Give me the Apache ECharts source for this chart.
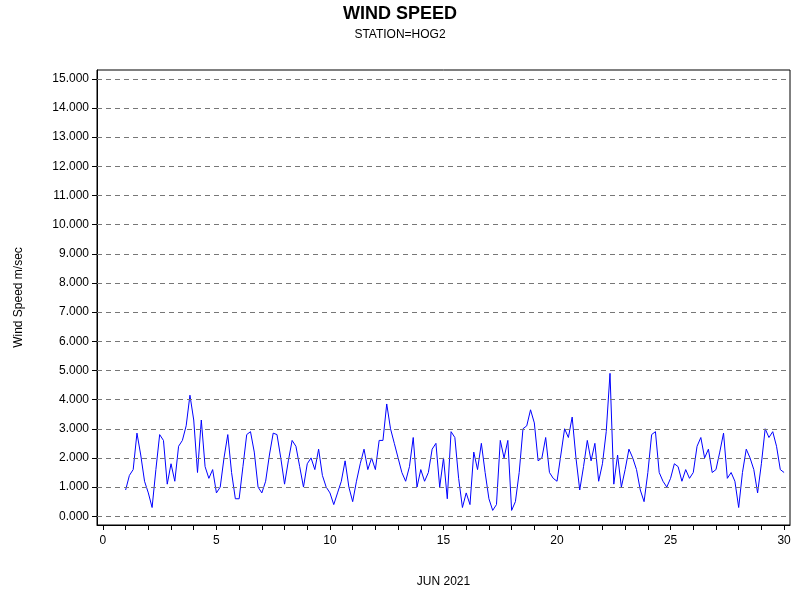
<!DOCTYPE html>
<html><head><meta charset="utf-8">
<script src="https://cdn.jsdelivr.net/npm/echarts@6/dist/echarts.min.js"></script>
<style>html,body{margin:0;padding:0;background:#fff}#c{width:800px;height:600px}</style>
</head><body><div id="c"></div>
<script>
const speed = [
0.9,1.4,1.6,2.85,2.1,1.2,
0.8,0.3,1.6,2.8,2.6,1.1,
1.8,1.2,2.4,2.6,3.1,4.15,
3.3,1.5,3.3,1.7,1.3,1.6,
0.8,1.0,2.0,2.8,1.5,0.6,
0.6,1.7,2.8,2.9,2.2,1.0,
0.8,1.2,2.1,2.85,2.8,2.0,
1.1,1.9,2.6,2.4,1.7,1.0,
1.8,2.0,1.6,2.3,1.4,1.0,
0.8,0.4,0.8,1.2,1.9,1.0,
0.5,1.2,1.8,2.3,1.6,2.0,
1.6,2.6,2.6,3.85,3.0,2.5,
2.0,1.5,1.2,1.7,2.7,1.0,
1.6,1.2,1.5,2.3,2.5,1.0,
2.0,0.6,2.9,2.7,1.3,0.3,
0.8,0.4,2.2,1.6,2.5,1.5,
0.6,0.2,0.4,2.6,2.0,2.6,
0.2,0.5,1.5,3.0,3.1,3.65,
3.2,1.9,2.0,2.7,1.5,1.3,
1.2,2.1,3.0,2.7,3.4,2.0,
0.9,1.7,2.6,1.9,2.5,1.2,
1.8,2.9,4.9,1.1,2.1,1.0,
1.6,2.3,2.0,1.6,0.9,0.5,
1.5,2.8,2.9,1.5,1.2,1.0,
1.3,1.8,1.7,1.2,1.6,1.3,
1.5,2.4,2.7,2.0,2.3,1.5,
1.6,2.2,2.85,1.3,1.5,1.2,
0.3,1.5,2.3,2.0,1.6,0.8,
1.8,3.0,2.7,2.9,2.4,1.6,
1.5
];
const dayStart = 1.0, stepsPerDay = 6;
const xTicks = [0,5,10,15,20,25,30];
const yTicks = [0,1,2,3,4,5,6,7,8,9,10,11,12,13,14,15];
const days = speed.map((v,i)=> dayStart + i/stepsPerDay);
const minorX = Array.from({length:31},(_, i)=>i);
const chart = echarts.init(document.getElementById('c'));
const F = 'Liberation Sans, Arial, sans-serif';
chart.setOption({
  animation:false,
  title:{text:'WIND SPEED', subtext:'STATION=HOG2', left:'center', top:0, itemGap:6,
    textStyle:{fontFamily:F,fontSize:18,fontWeight:'bold',color:'#000'},
    subtextStyle:{fontFamily:F,fontSize:12,color:'#000'}},
  grid:{left:97,right:10,top:70,bottom:75,show:true,borderColor:'#000',borderWidth:1},
  xAxis:{type:'value',min:-0.26,max:30.26,
    name:'JUN 2021',nameLocation:'middle',nameGap:51,nameTextStyle:{fontFamily:F,fontSize:12,color:'#000'},
    axisLine:{onZero:false,lineStyle:{color:'#000'}},
    axisTick:{customValues:minorX,length:5,lineStyle:{color:'#000'}},
    axisLabel:{customValues:xTicks,fontFamily:F,fontSize:12,color:'#000',margin:10},
    splitLine:{show:false}},
  yAxis:{type:'value',min:-0.3,max:15.3,
    name:'Wind Speed m/sec',nameLocation:'middle',nameGap:72,nameTextStyle:{fontFamily:F,fontSize:12,color:'#000'},
    axisLine:{onZero:false,lineStyle:{color:'#000'}},
    axisTick:{customValues:yTicks,length:5,lineStyle:{color:'#000'}},
    axisLabel:{customValues:yTicks,fontFamily:F,fontSize:12,color:'#000',formatter:v=>v.toFixed(3)},
    splitLine:{show:false}},
  series:[{type:'line',data:days.map((d,i)=>[d,speed[i]]),showSymbol:false,
    lineStyle:{color:'#0000ff',width:1},
    markLine:{silent:true,symbol:'none',label:{show:false},
      lineStyle:{color:'#777',type:[5,4],width:1},
      data:yTicks.map(v=>({yAxis:v}))}}]
});
</script></body></html>
